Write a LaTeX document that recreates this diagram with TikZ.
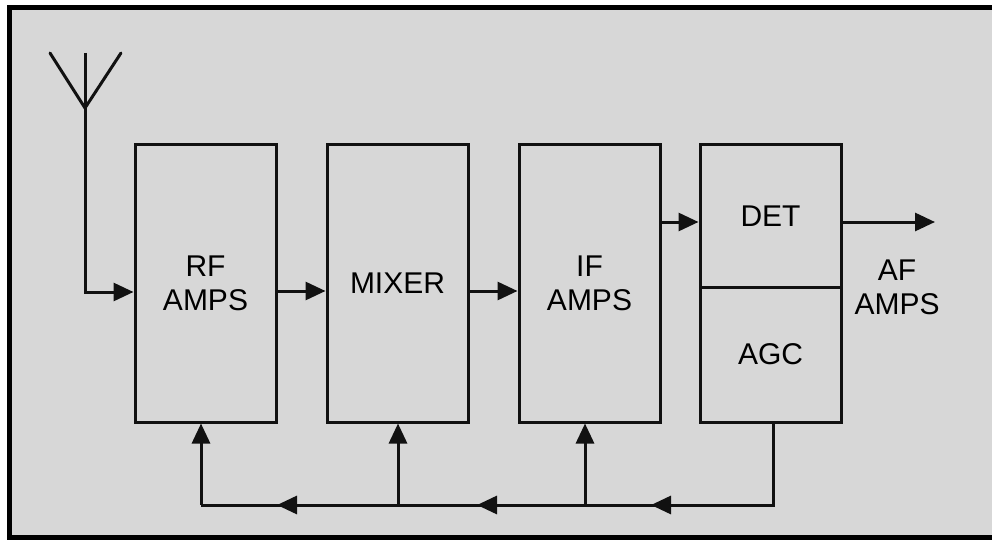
\documentclass[tikz,border=0pt]{standalone}
\usepackage{fontspec}
\setmainfont{Liberation Sans}
\usetikzlibrary{arrows.meta}
\definecolor{bg}{HTML}{D7D7D7}
\definecolor{ln}{HTML}{111111}
\begin{document}
\begin{tikzpicture}[x=1pt,y=-1pt,
  blk/.style={draw=ln,line width=3pt,fill=bg,minimum width=141pt,inner sep=0pt,align=center,
     font=\fontsize{30}{34}\selectfont},
  wire/.style={draw=ln,line width=3pt},
  arr/.style={wire,-{Triangle[length=20pt,width=18pt]}},
  lbl/.style={align=center,font=\fontsize{30}{34}\selectfont,inner sep=0pt}]
\useasboundingbox (0,0) rectangle (992,540);
\fill[black] (7,5) rectangle (992,540);
\fill[bg] (12,10) rectangle (992,535);
% blocks
\node[blk,minimum height=277pt] (rf) at (205.5,283.5) {RF\\AMPS};
\node[blk,minimum height=277pt] (mixer) at (397.5,283.5) {MIXER};
\node[blk,minimum height=277pt] (ifa) at (589.5,283.5) {IF\\AMPS};
\node[blk,minimum height=142pt] (det) at (770.5,216) {\raisebox{-4pt}{DET}};
\node[blk,minimum height=135pt] (agc) at (770.5,354.5) {\raisebox{-3pt}{AGC}};
\node[lbl] (af) at (897,287) {AF\\AMPS};
% antenna
\coordinate (ant) at (85,108);
\coordinate (antl) at (50,53);
\coordinate (antr) at (121,53);
\coordinate (antt) at (85,53);
\draw[wire,line cap=round] (antl) -- (ant) -- (antr);
\draw[arr] (antt) |- (rf.west |- 0,292);
% forward path
\draw[arr] (rf.east |- 0,291) -- (mixer.west |- 0,291);
\draw[arr] (mixer.east |- 0,291) -- (ifa.west |- 0,291);
\draw[arr] (ifa.east |- 0,222) -- (det.west |- 0,222);
\coordinate (afout) at (935,222);
\draw[arr] (det.east |- 0,222) -- (afout);
% AGC feedback
\coordinate (fb) at (773,505);
\coordinate (fbl) at (201,505);
\draw[wire] (agc.south -| fb) -- (fb) -- (fbl);
\draw[arr] (fbl) -- (rf.south -| fbl);
\draw[arr] (398,505) -- (mixer.south -| 398,0);
\draw[arr] (585,505) -- (ifa.south -| 585,0);
\draw[arr] (700,505) -- (651,505);
\draw[arr] (520,505) -- (477,505);
\draw[arr] (330,505) -- (277,505);
\end{tikzpicture}
\end{document}
